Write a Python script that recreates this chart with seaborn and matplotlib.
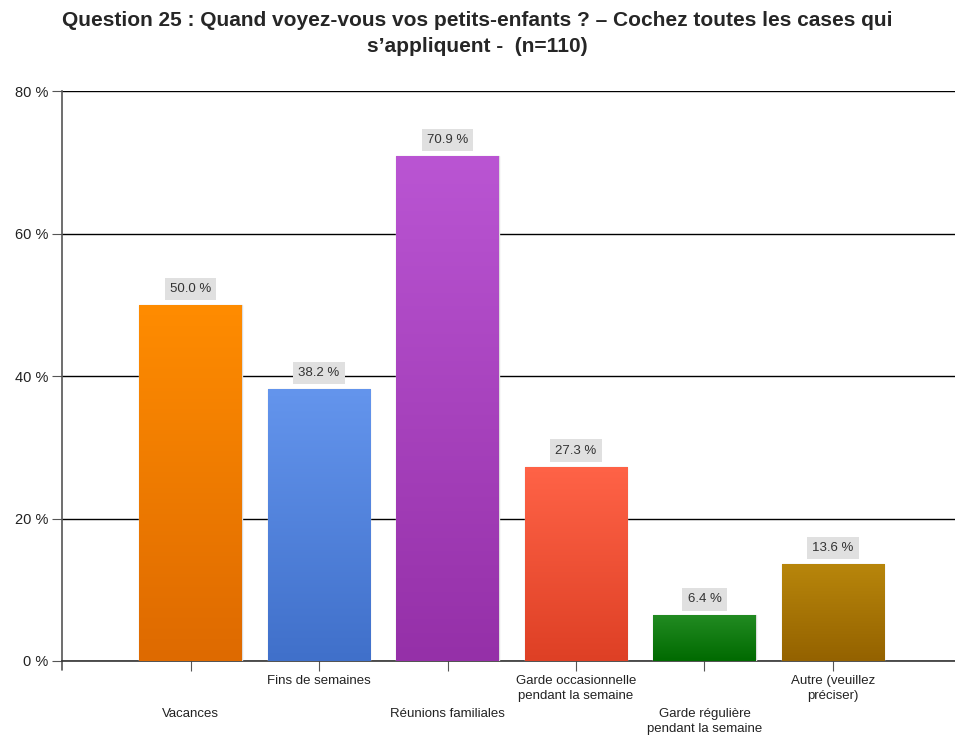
import numpy as np
import pandas as pd
import seaborn as sns
import matplotlib.pyplot as plt
from matplotlib.colors import LinearSegmentedColormap

categories = ["Vacances", "Fins de semaines", "Réunions familiales",
              "Garde occasionnelle\npendant la semaine",
              "Garde régulière\npendant la semaine", "Autre (veuillez\npréciser)"]
values = [50.0, 38.2, 70.9, 27.3, 6.4, 13.6]
top_colors = ["#FF8C00", "#6495ED", "#BA55D3", "#FF6347", "#228B22", "#B8860B"]
bottom_colors = ["#DE6A00", "#4070CA", "#9530A8", "#DE4025", "#006A00", "#946200"]
yticks = [0, 20, 40, 60, 80]

df = pd.DataFrame({"cat": categories, "val": values})

sns.set_style("white")
plt.rcParams["font.family"] = ["Liberation Sans", "DejaVu Sans"]

fig = plt.figure(figsize=(9.55, 7.36), dpi=100)
ax = fig.add_axes([0.065, 0.102, 0.935, 0.774])

sns.barplot(data=df, x="cat", y="val", hue="cat", palette=top_colors,
            width=0.8, legend=False, ax=ax, saturation=1)

# gradient fill on each bar
for patch, c1, c2 in zip(ax.patches, top_colors, bottom_colors):
    x0, y0 = patch.get_x(), patch.get_y()
    w, h = patch.get_width(), patch.get_height()
    cmap = LinearSegmentedColormap.from_list("g", [c2, c1])
    grad = np.linspace(0, 1, 256).reshape(-1, 1)
    im = ax.imshow(grad, cmap=cmap, origin="lower", aspect="auto",
                   extent=[x0, x0 + w, y0, y0 + h], zorder=3)
    im.set_clip_path(patch)
    patch.set_edgecolor("#dddddd")
    patch.set_linewidth(1.0)
    patch.set_zorder(3)
    ax.text(x0 + w / 2, h + 1.4, f"{h:.1f} %", ha="center", va="bottom",
            fontsize=9.5, color="#333333", zorder=5,
            bbox=dict(boxstyle="square,pad=0.4", fc="#e0e0e0", ec="none"))

ax.set_xlim(-1, 5.95)
ax.set_ylim(0, 80)
ax.set_yticks(yticks)
ax.set_yticklabels([f"{v} %" for v in yticks], fontsize=10.5, color="#222222")
ax.yaxis.grid(True, color="black", linewidth=1.0)
ax.set_axisbelow(True)
ax.set_xlabel("")
ax.set_ylabel("")

for s in ["top", "right"]:
    ax.spines[s].set_visible(False)
ax.spines["left"].set_color("#555555")
ax.spines["left"].set_linewidth(1.2)
ax.spines["bottom"].set_color("#333333")
ax.spines["bottom"].set_linewidth(1.2)
ax.plot([0, 0], [0, -0.016], transform=ax.transAxes, color="#555555",
        lw=1.2, clip_on=False)

ax.tick_params(axis="y", length=7, color="#555555", pad=3, left=True)
ax.tick_params(axis="x", length=7, color="#555555", bottom=True)
ax.set_xticks(range(len(categories)))
ax.set_xticklabels(categories, fontsize=9.5, color="#222222",
                   ha="center", linespacing=1.3)
for i, t in enumerate(ax.xaxis.get_major_ticks()):
    t.set_pad(27 if i % 2 == 0 else 3)
    t.label1.set_verticalalignment("top")

fig.suptitle("Question 25 : Quand voyez-vous vos petits-enfants ? – Cochez toutes les cases qui\n"
             "s’appliquent -  (n=110)", fontsize=15, fontweight="bold",
             y=0.985, linespacing=1.45)

fig.savefig("out.png", dpi=100)
